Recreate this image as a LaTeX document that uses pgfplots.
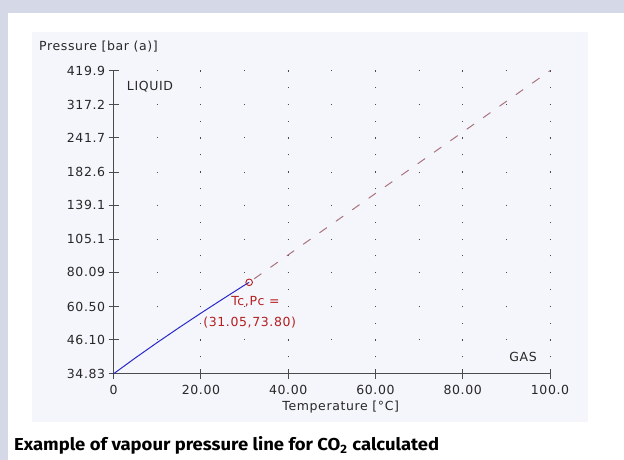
\documentclass[border=0pt]{standalone}
\usepackage{pgfplots}
\pgfplotsset{compat=1.18}
\usepackage{fontspec}
\setmainfont{DejaVu Sans}[LetterSpace=5]
\newfontfamily\capfont{Fira Sans}
\usepackage{graphicx}
\definecolor{outerbg}{RGB}{213,217,231}
\definecolor{panelbg}{RGB}{245,246,252}
\definecolor{axisgray}{RGB}{75,75,75}
\definecolor{txtgray}{RGB}{40,40,40}
\definecolor{curveblue}{RGB}{40,40,200}
\definecolor{critred}{RGB}{180,30,30}
\definecolor{dashbrown}{RGB}{170,115,125}
\begin{document}
\begin{tikzpicture}[x=1pt,y=1pt]
\useasboundingbox (0,0) rectangle (624,460);
\fill[white] (0,0) rectangle (624,460);
\fill[outerbg] (0,447) rectangle (624,460);
\fill[outerbg] (0,0) rectangle (7.5,460);
\fill[panelbg] (32,38) rectangle (588,428);
\begin{axis}[
  at={(113.7pt,86.3pt)}, anchor=south west,
  scale only axis, width=436.3pt, height=303pt,
  xmin=0, xmax=100, ymode=log, ymin=34.83, ymax=419.9,
  axis lines*=left,
  axis line style={axisgray, line width=1.4pt},
  xtick={0,20,40,60,80,100},
  xticklabels={0,20.00,40.00,60.00,80.00,100.0},
  ytick={34.83,46.10,60.50,80.09,105.1,139.1,182.6,241.7,317.2,419.9},
  yticklabels={34.83,46.10,60.50,80.09,105.1,139.1,182.6,241.7,317.2,419.9},
  minor tick num=0,
  tick align=center, major tick length=10pt,
  tick style={axisgray, line width=1pt},
  ticklabel style={font=\fontsize{12.5}{14}\selectfont, text=txtgray},
  xticklabel style={yshift=-3.5pt},
  /pgf/number format/assume math mode=true,
  grid=major,
  x grid style={draw=black!70, line width=1pt, dash pattern=on 1pt off 15.83pt, dash phase=0.5pt},
  y grid style={draw=black!70, line width=1pt, dash pattern=on 1pt off 42.63pt, dash phase=0.5pt},
  clip=false,
]
\addplot[curveblue, line width=1pt] coordinates {(0,34.83) (5,39.69) (10,45.02) (15,50.87) (20,57.29) (25,64.34) (30,72.13) (31.05,73.80)};
\addplot[dashbrown, line width=1pt, dash pattern=on 9pt off 11pt, dash phase=-6pt] coordinates {(31.05,73.80) (100,419.9)};
\addplot[critred, only marks, mark=o, mark size=3.3pt, mark options={line width=0.9pt}] coordinates {(31.05,73.80)};
\end{axis}
\begin{scope}[every node/.style={font=\fontsize{12.5}{14}\selectfont, inner sep=0pt}]
\node[anchor=west, text=txtgray] at (39,413) {Pressure [bar (a)]};
\node[text=txtgray] at (340.7,53) {Temperature [°C]};
\node[text=txtgray] at (150,373) {LIQUID};
\node[text=txtgray] at (523,103.3) {GAS};
\node[text=critred] at (255.5,158.3) {Tc,Pc =};
\node[text=critred] at (249.7,137) {(31.05,73.80)};
\end{scope}
\node[anchor=base west, inner sep=0pt] at (14,9) {\resizebox{425pt}{14pt}{\capfont\bfseries Example of vapour pressure line for CO\textsubscript{2} calculated}};
\end{tikzpicture}
\end{document}
